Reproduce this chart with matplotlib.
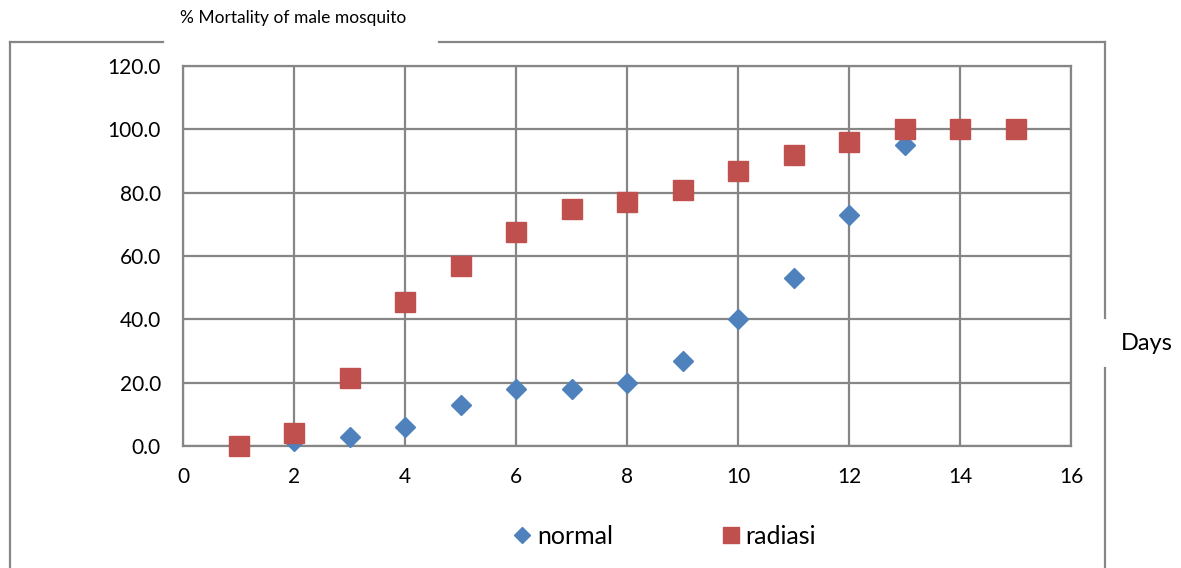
import matplotlib
matplotlib.use("Agg")
import matplotlib.pyplot as plt
from matplotlib.lines import Line2D

plt.rcParams["font.family"] = ["Lato", "DejaVu Sans"]

days = [1, 2, 3, 4, 5, 6, 7, 8, 9, 10, 11, 12, 13, 14, 15]
normal = [0, 1.5, 3, 6, 13, 18, 18, 20, 27, 40, 53, 73, 95, 100, 100]
radiasi = [0, 4, 21.5, 45.5, 57, 67.5, 75, 77, 81, 87, 92, 96, 100, 100, 100]

BLUE = "#4F81BD"
RED = "#C0504D"
GRID = "#868686"

W, H = 1181, 568
fig = plt.figure(figsize=(W / 100, H / 100), dpi=100)
ax = fig.add_axes([183 / W, 1 - 446 / H, (1071 - 183) / W, (446 - 66) / H])

ax.plot(days, normal, linestyle="none", marker="D", markersize=10,
        color=BLUE, label="normal", zorder=3, clip_on=False)
ax.plot(days, radiasi, linestyle="none", marker="s", markersize=14,
        color=RED, label="radiasi", zorder=4, clip_on=False)

ax.set_xlim(0, 16)
ax.set_ylim(0, 120)
ax.set_xticks(range(0, 17, 2))
ax.set_yticks(range(0, 121, 20))
ax.set_yticklabels([f"{v:.1f}" for v in range(0, 121, 20)])
ax.tick_params(length=0, labelsize=15)
ax.tick_params(axis="x", pad=15)
ax.tick_params(axis="y", pad=16)
ax.grid(True, color=GRID, linewidth=1.6)
ax.set_axisbelow(True)
for s in ax.spines.values():
    s.set_color(GRID)
    s.set_linewidth(1.6)

# outer chart frame, broken where the labels sit
def fline(x0, y0, x1, y1):
    fig.add_artist(Line2D([x0 / W, x1 / W], [1 - y0 / H, 1 - y1 / H],
                          color=GRID, linewidth=1.6))

fline(10, 42, 10, 568)
fline(10, 42, 163, 42)
fline(439, 42, 1105, 42)
fline(1105, 42, 1105, 318)
fline(1105, 368, 1105, 568)

fig.text(293 / W, 1 - 18 / H, "% Mortality of male mosquito",
         ha="center", va="center", fontsize=12.5)
fig.text(1121 / W, 1 - 344 / H, "Days", ha="left", va="center", fontsize=17)

ax.legend(loc="center", bbox_to_anchor=(664 / W, 1 - 536 / H),
          bbox_transform=fig.transFigure, ncol=2, frameon=False,
          fontsize=18, handletextpad=0.2, columnspacing=4.3,
          handlelength=0.8, markerscale=0.8)

fig.savefig("out.png", dpi=100, facecolor="white")
